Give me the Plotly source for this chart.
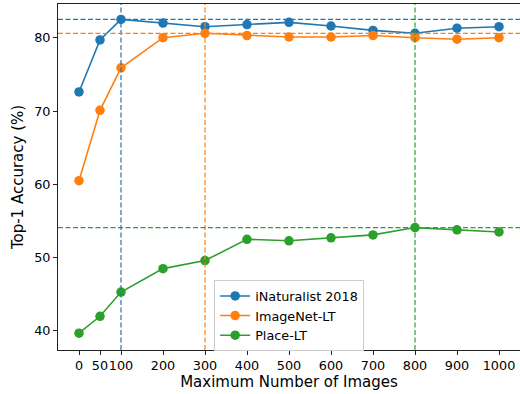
import plotly.graph_objects as go

x_vals = [0, 50, 100, 200, 300, 400, 500, 600, 700, 800, 900, 1000]
tick_labels = ["0", "50", "100", "200", "300", "400", "500", "600", "700", "800", "900", "1000"]
inat = [72.6, 79.7, 82.5, 82.0, 81.5, 81.8, 82.1, 81.6, 81.0, 80.6, 81.3, 81.5]
imagenet = [60.5, 70.1, 75.9, 80.0, 80.6, 80.3, 80.1, 80.1, 80.3, 80.0, 79.8, 80.0]
place = [39.7, 42.0, 45.3, 48.5, 49.6, 52.5, 52.3, 52.7, 53.1, 54.1, 53.8, 53.5]
names = ["iNaturalist 2018", "ImageNet-LT", "Place-LT"]
colors = ["#1f77b4", "#ff7f0e", "#2ca02c"]
series = [inat, imagenet, place]

FONT = "DejaVu Sans"
fig = go.Figure()
shapes = []
for name, col, ys in zip(names, colors, series):
    fig.add_trace(go.Scatter(
        x=x_vals, y=ys, mode="lines+markers", name=name,
        line=dict(color=col, width=1.6),
        marker=dict(color=col, size=9.5),
    ))
    best = max(ys)
    bx = x_vals[ys.index(best)]
    shapes.append(dict(type="line", xref="paper", yref="y", x0=0, x1=1, y0=best, y1=best,
                       line=dict(color=col, width=1.2, dash="5px,2.5px"), layer="above"))
    shapes.append(dict(type="line", xref="x", yref="paper", x0=bx, x1=bx, y0=0, y1=1,
                       line=dict(color=col, width=1.2, dash="5px,2.5px"), layer="above"))

fig.update_layout(
    width=520, height=394,
    margin=dict(l=58, r=0, t=4, b=44),
    paper_bgcolor="white", plot_bgcolor="white",
    font=dict(family=FONT, size=12.8, color="black"),
    shapes=shapes,
    showlegend=True,
    legend=dict(x=0.338, y=0.202, xanchor="left", yanchor="top",
                bgcolor="rgba(255,255,255,0.8)", bordercolor="#cccccc", borderwidth=1,
                font=dict(family=FONT, size=12.8), tracegroupgap=0, itemwidth=30),
    xaxis=dict(range=[-50, 1050], tickmode="array", tickvals=x_vals, ticktext=tick_labels,
               showgrid=False, zeroline=False, showline=True, linecolor="#222", linewidth=1,
               mirror=True, ticks="outside", ticklen=4, tickcolor="#222", tickangle=0,
               automargin=False,
               title=dict(text="Maximum Number of Images", standoff=4),
               tickfont=dict(size=12.8)),
    yaxis=dict(range=[37.4, 84.6], tickvals=[40, 50, 60, 70, 80],
               showgrid=False, zeroline=False, showline=True, linecolor="#222", linewidth=1,
               ticks="outside", ticklen=4, tickcolor="#222", automargin=False,
               title=dict(text="Top-1 Accuracy (%)", standoff=6),
               tickfont=dict(size=12.8)),
)
fig.write_html("out.html", config={"displayModeBar": False},
               post_script="document.body.style.margin='0';document.body.style.overflow='hidden';")
